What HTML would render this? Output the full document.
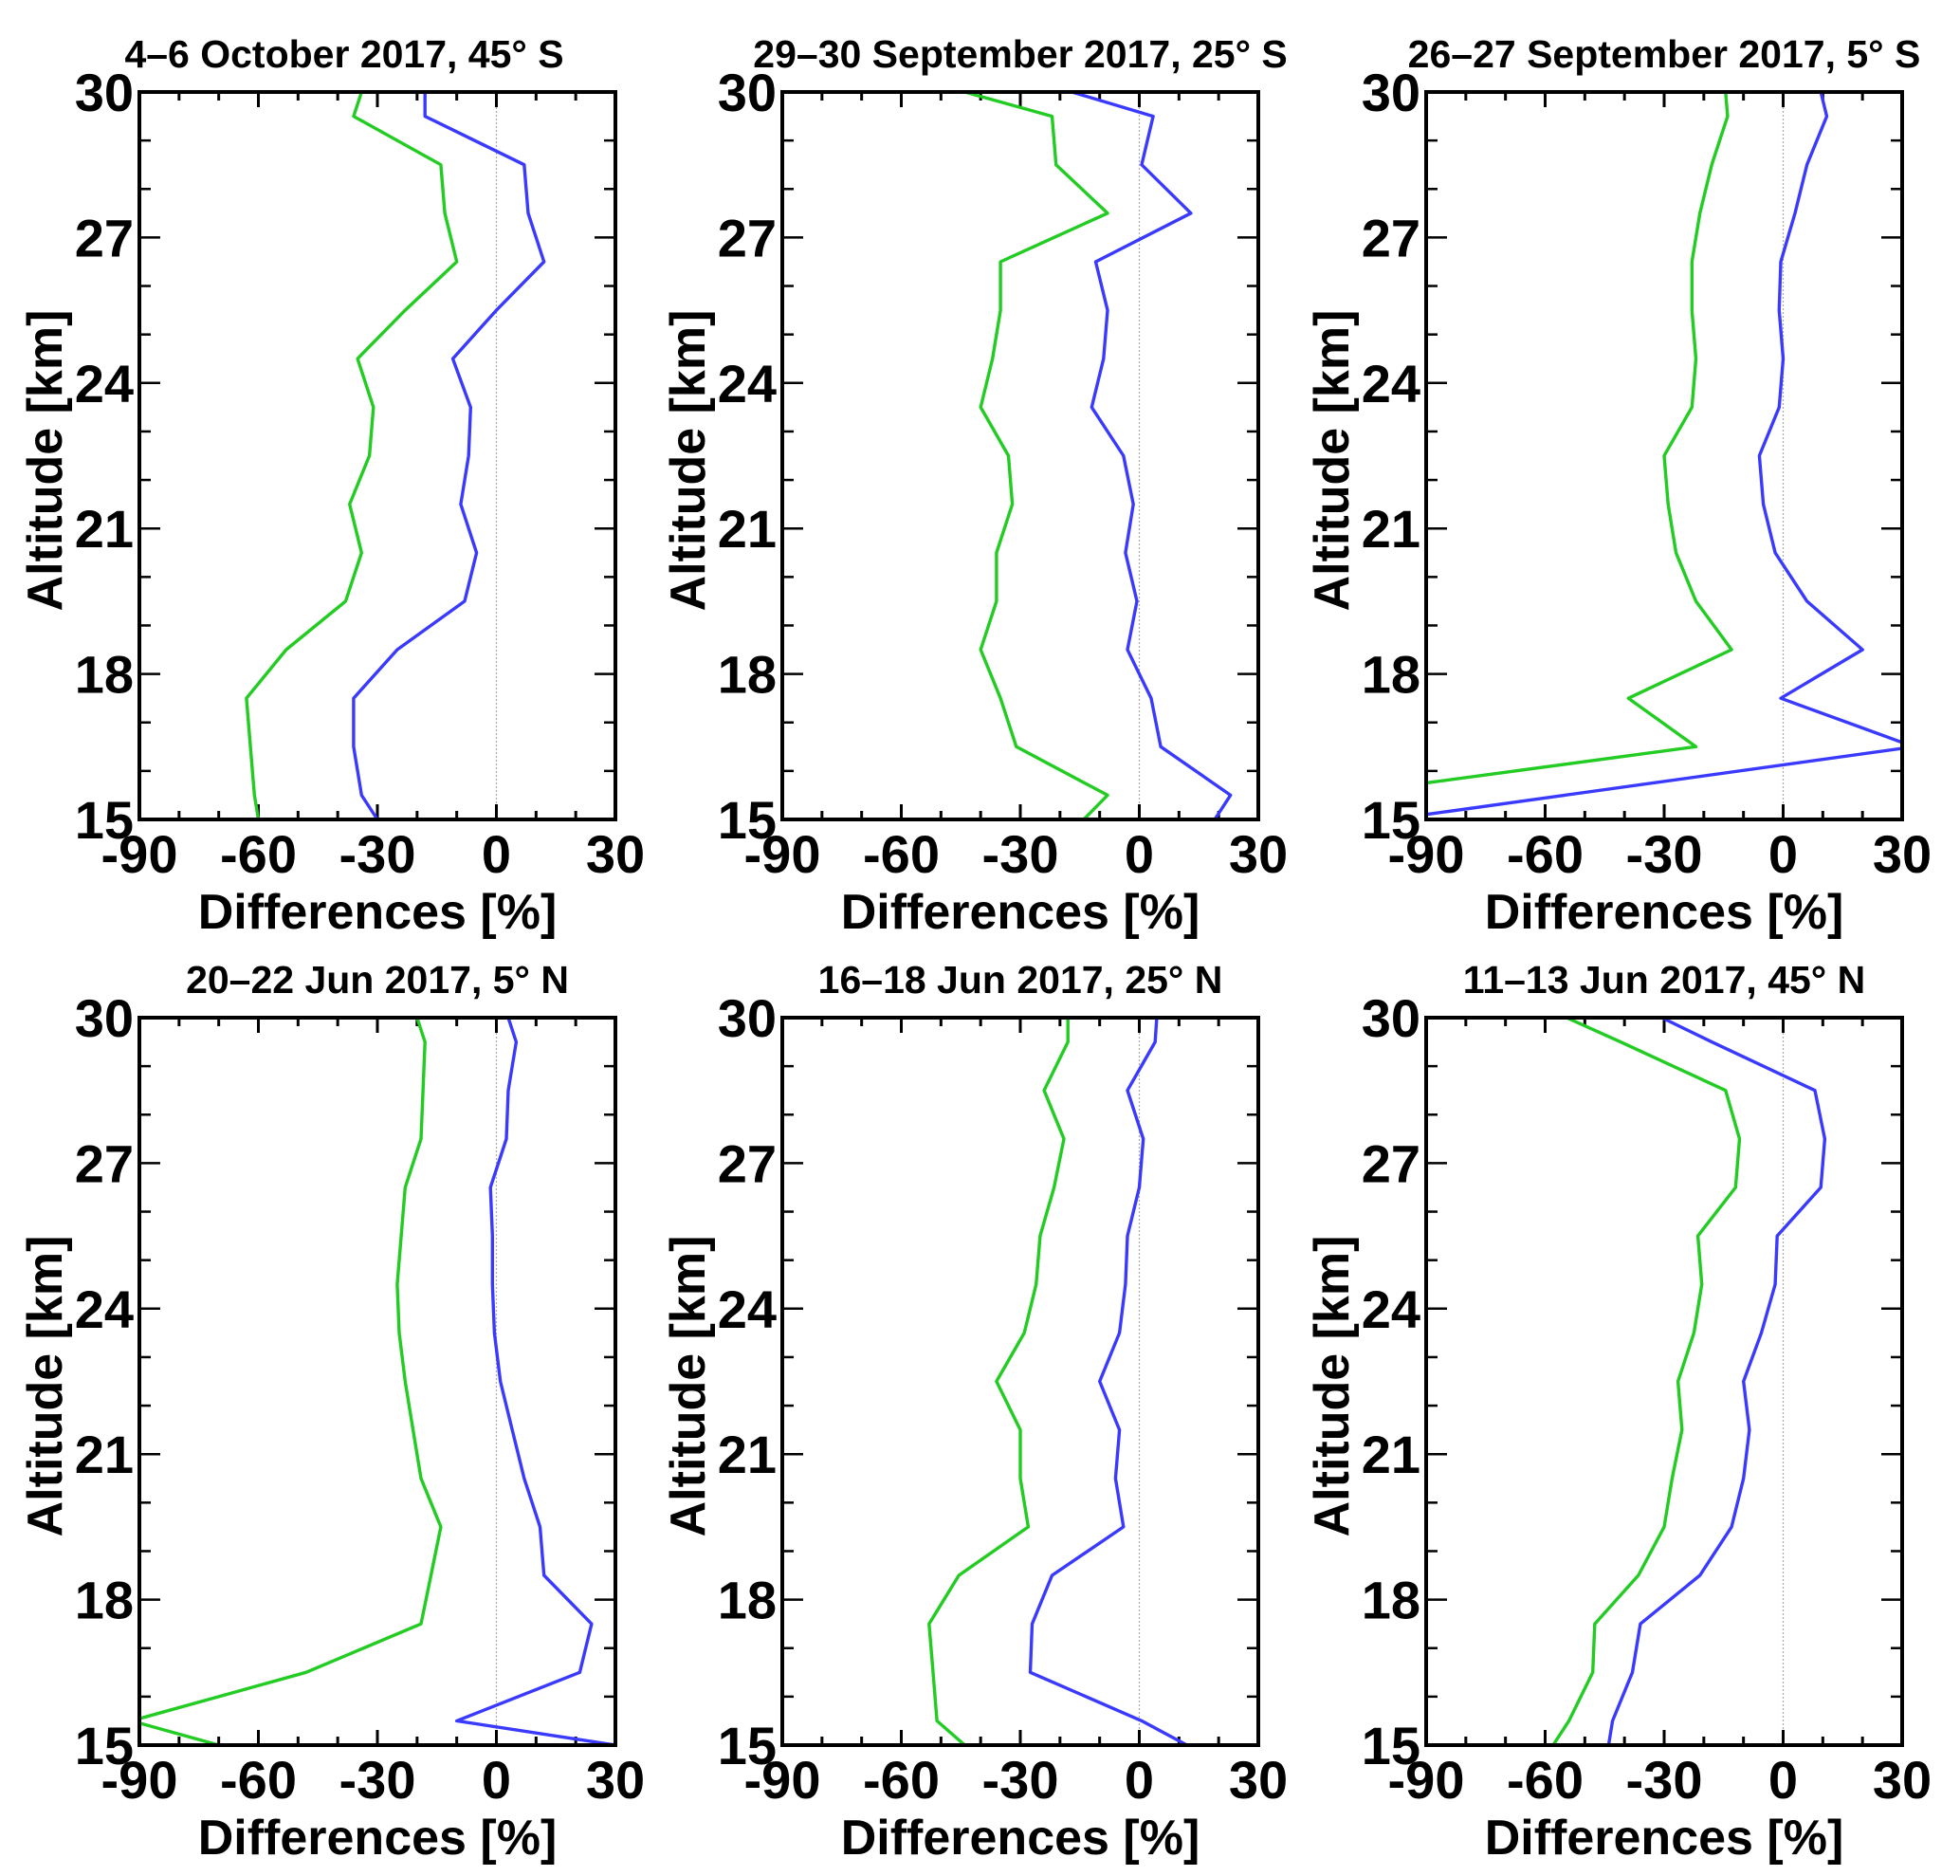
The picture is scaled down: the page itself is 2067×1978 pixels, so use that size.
<!DOCTYPE html>
<html><head><meta charset="utf-8"><style>
html,body{margin:0;padding:0;background:#fff;}
svg{display:block;font-family:"Liberation Sans",Arial,sans-serif;}
</style></head><body>
<svg id="fig" width="2067" height="1978" viewBox="0 0 2067 1978" xmlns="http://www.w3.org/2000/svg"></svg>
<script>
const altitudes=[15,15.5,16.5,17.5,18.5,19.5,20.5,21.5,22.5,23.5,24.5,25.5,26.5,27.5,28.5,29.5,30];
const titles=["4–6 October 2017, 45° S","29–30 September 2017, 25° S","26–27 September 2017, 5° S","20–22 Jun 2017, 5° N","16–18 Jun 2017, 25° N","11–13 Jun 2017, 45° N"];
const green1=[-60,-61,-62,-63,-53,-38,-34,-37,-32,-31,-35,-23,-10,-13,-14,-36,-34];
const blue1=[-30,-34,-36,-36,-25,-8,-5,-9,-7,-6.5,-11,0,12,8,7,-18,-18];
const green2=[-14,-8,-31,-35,-40,-36,-36,-32,-33,-40,-37,-35,-35,-8,-21,-22,-44];
const blue2=[19,23,5.4,3,-3,-0.6,-3.5,-1.5,-4,-12,-9,-8,-11,13,0.6,3.5,-17];
const green3=[-158,-113,-22,-39,-13,-22,-27,-29,-30,-23,-22,-23,-23,-21,-18,-14,-14.5];
const blue3=[-99,-55,33,-0.6,20,6,-2,-5,-6,-1,0,-1,-0.6,3,6,11,9.5];
const green4=[-70,-92,-48,-19,-16.5,-14,-19,-21,-23,-24.5,-25,-24,-23,-19,-18.5,-18,-20];
const blue4=[30,-10,21,24,12,11,7,4,1,-0.5,-1,-1,-1.5,2.5,3,5,3];
const green5=[-44,-51,-52,-53,-45.5,-28,-30,-30,-36,-29,-26,-25,-21.5,-19,-24,-18,-18];
const blue5=[12,0.6,-27.5,-27,-22,-4,-6,-5,-10,-5,-3.5,-3,0,1,-3,4,4.4];
const green6=[-58,-54,-48,-47.5,-36.5,-30,-28,-25.5,-26.5,-22.5,-20.5,-21.5,-12,-11,-14.5,-41,-54.6];
const blue6=[-44,-43,-38,-36,-21,-13,-10,-8.5,-10,-5.5,-2,-1.5,9.5,10.5,8,-18,-30.6];
const xTicks=[-90,-60,-30,0,30];
const yTicks=[15,18,21,24,27,30];
const greens=[green1,green2,green3,green4,green5,green6];
const blues=[blue1,blue2,blue3,blue4,blue5,blue6];

const NS="http://www.w3.org/2000/svg";
const fig=document.getElementById('fig');
function mk(tag,attrs,parent){const e=document.createElementNS(NS,tag);for(const k in attrs)e.setAttribute(k,attrs[k]);parent.appendChild(e);return e;}
const lefts=[147,825,1504], tops=[97,1073], W=502, H=767;
for(let p=0;p<6;p++){
  const L=lefts[p%3], T=tops[Math.floor(p/3)];
  const xs=v=>L+(v+90)/120*W;
  const ys=v=>T+(30-v)/15*H;
  const g=mk('g',{},fig);
  
  
  const cid='clip'+p;
  const cp=mk('clipPath',{id:cid},g);mk('rect',{x:L,y:T,width:W,height:H},cp);
  const t=mk('text',{x:L+W/2-(p===0?35:0),y:T-26,'text-anchor':'middle','font-size':41,'font-weight':'bold'},g);
  t.textContent=titles[p];
  
  
  const z=mk('line',{x1:xs(0),x2:xs(0),y1:T,y2:T+H,stroke:'#aaa','stroke-width':1.2,'stroke-dasharray':'2,2'},g);
  
  
  for(let v=-90;v<=30;v+=10){const mj=xTicks.includes(v);const len=mj?16:9;
    mk('line',{x1:xs(v),x2:xs(v),y1:T+H,y2:T+H-len,stroke:'#000','stroke-width':3},g);
    mk('line',{x1:xs(v),x2:xs(v),y1:T,y2:T+len,stroke:'#000','stroke-width':3},g);}
  for(let v=15;v<=30;v+=1){const mj=yTicks.includes(v);const len=mj?22:12;
    mk('line',{x1:L,x2:L+len,y1:ys(v),y2:ys(v),stroke:'#000','stroke-width':2.5},g);
    mk('line',{x1:L+W,x2:L+W-len,y1:ys(v),y2:ys(v),stroke:'#000','stroke-width':2.5},g);}
  xTicks.forEach(v=>{const e=mk('text',{x:xs(v),y:T+H+56,'text-anchor':'middle','font-size':56,'font-weight':'bold'},g);e.textContent=v;
    
    });
  yTicks.forEach(v=>{const e=mk('text',{x:L-6,y:ys(v)+20,'text-anchor':'end','font-size':56,'font-weight':'bold'},g);e.textContent=v;
    
    });
  const xt=mk('text',{x:L+W/2,y:T+H+115,'text-anchor':'middle','font-size':52,'font-weight':'bold'},g);xt.textContent='Differences [%]';
  
  
  const yt=mk('text',{x:0,y:0,'text-anchor':'middle','font-size':52,'font-weight':'bold',transform:`translate(${L-82},${T+H/2+5}) rotate(-90)`},g);yt.textContent='Altitude [km]';
  
  
  [[greens[p],'#22cc22','green-series'],[blues[p],'#3a3aff','blue-series']].forEach(([arr,col,nm])=>{
    const d=arr.map((v,i)=>(i?'L':'M')+xs(v).toFixed(1)+','+ys(altitudes[i]).toFixed(1)).join(' ');
    const pl=mk('path',{d:d,fill:'none',stroke:col,'stroke-width':3.4,'stroke-linejoin':'round','clip-path':`url(#${cid})`},g);
    
    
  });
  const fr=mk('rect',{x:L,y:T,width:W,height:H,fill:'none',stroke:'#000','stroke-width':4},g);
  
  
}
</script>
</body></html>
